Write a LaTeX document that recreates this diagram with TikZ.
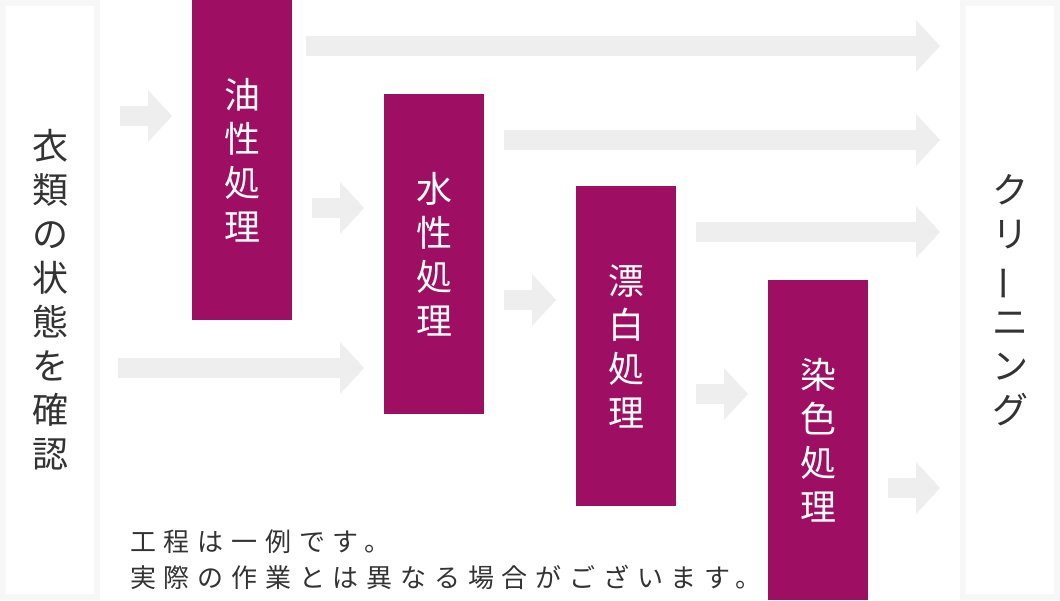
\documentclass[tikz,border=0pt]{standalone}
\usepackage{fontspec}
\usepackage{graphicx}
\usetikzlibrary{arrows.meta}
\newfontfamily\jp{Noto Sans CJK JP}
\newfontfamily\jpwide[LetterSpace=30]{Noto Sans CJK JP}
\definecolor{procred}{HTML}{9E0E62}
\definecolor{flowgray}{HTML}{EEEEEE}
\definecolor{panelgray}{HTML}{F7F7F7}
\definecolor{inktext}{HTML}{333333}
\begin{document}
\begin{tikzpicture}[x=1pt,y=-1pt,
  panel/.style={draw=panelgray,line width=6pt,fill=white,minimum width=94pt,minimum height=594pt,inner sep=0pt,outer sep=3pt,text=inktext,font=\jp\fontsize{36}{44}\selectfont,align=center},
  procbox/.style={fill=procred,minimum width=100pt,minimum height=320pt,inner sep=0pt,outer sep=0pt,text=white,font=\jp\fontsize{36}{44}\selectfont,align=center},
  flow/.style={draw=flowgray,line width=20pt,-{Triangle[width=52pt,length=24pt,line width=0pt]},shorten <=20pt,shorten >=20pt},
  note/.style={text=inktext,font=\jpwide\fontsize{26}{36}\selectfont,align=left,inner sep=0pt,anchor=north west}]
\path[use as bounding box,fill=white] (0,0) rectangle (1060,600);
\node[panel] (check) at (50,300) {衣\\類\\の\\状\\態\\を\\確\\認};
\node[panel] (clean) at (1010,300) {ク\\リ\\\rotatebox[origin=c]{90}{ー}\\ニ\\ン\\グ};
\node[procbox] (oil) at (242,160) {油\\性\\処\\理};
\node[procbox] (water) at (434,254) {水\\性\\処\\理};
\node[procbox] (bleach) at (626,346) {漂\\白\\処\\理};
\node[procbox] (dye) at (818,440) {染\\色\\処\\理};
\draw[flow] (check.east |- 0,116) -- (oil.west |- 0,116);
\draw[flow,shorten <=18pt] (check.east |- 0,368) -- (water.west |- 0,368);
\draw[flow,shorten <=14pt] (oil.east |- 0,46) -- (clean.west |- 0,46);
\draw[flow] (oil.east |- 0,208) -- (water.west |- 0,208);
\draw[flow] (water.east |- 0,140) -- (clean.west |- 0,140);
\draw[flow] (water.east |- 0,300) -- (bleach.west |- 0,300);
\draw[flow] (bleach.east |- 0,232) -- (clean.west |- 0,232);
\draw[flow] (bleach.east |- 0,394) -- (dye.west |- 0,394);
\draw[flow] (dye.east |- 0,488) -- (clean.west |- 0,488);
\node[note] (remark) at (130,530) {工程は一例です。\\実際の作業とは異なる場合がございます。};
\end{tikzpicture}
\end{document}
